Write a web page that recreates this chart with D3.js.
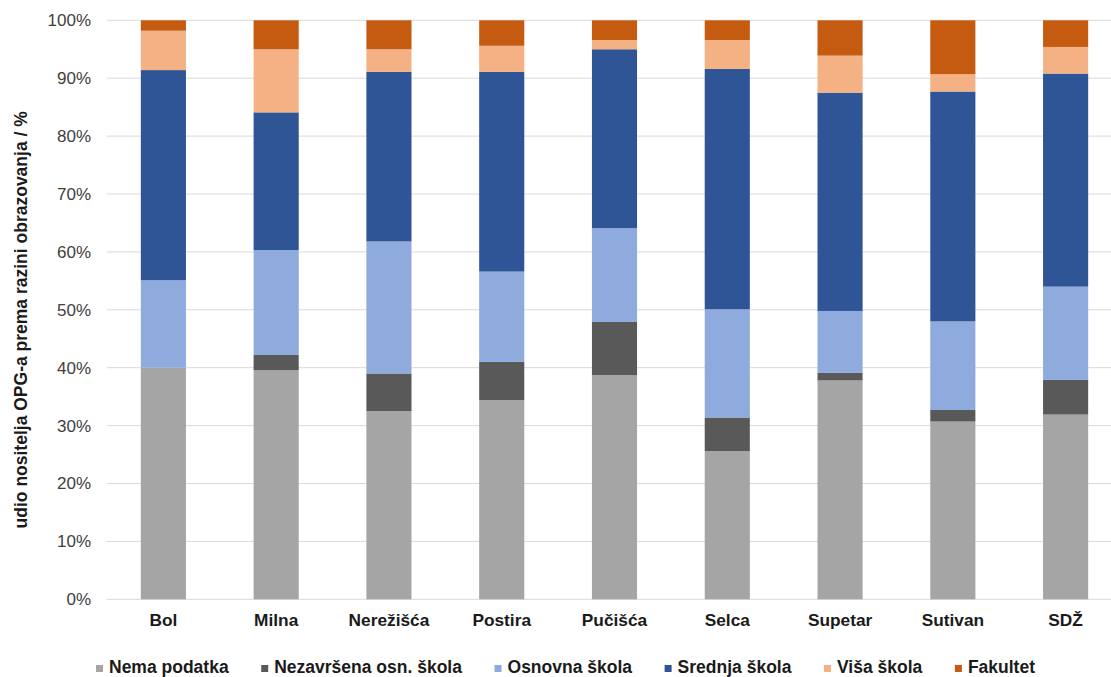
<!DOCTYPE html>
<html>
<head>
<meta charset="utf-8">
<script src="https://cdn.jsdelivr.net/npm/d3@7"></script>
<style>
  html, body { margin: 0; padding: 0; background: #fff; }
  svg { display: block; font-family: "Liberation Sans", Arial, sans-serif; }
</style>
</head>
<body>
<svg id="chart" width="1111" height="677"></svg>
<script>
const categories = ["Bol", "Milna", "Nerežišća", "Postira", "Pučišća", "Selca", "Supetar", "Sutivan", "SDŽ"];
const seriesNames = ["Nema podatka", "Nezavršena osn. škola", "Osnovna škola", "Srednja škola", "Viša škola", "Fakultet"];
const nemaPodatka   = [40.0, 39.6, 32.5, 34.4, 38.7, 25.6, 37.8, 30.7, 31.9];
const nezavrsena    = [ 0.0,  2.6,  6.5,  6.6,  9.2,  5.8,  1.3,  2.0,  6.0];
const osnovna       = [15.1, 18.1, 22.8, 15.6, 16.2, 18.7, 10.7, 15.3, 16.1];
const srednja       = [36.3, 23.8, 29.3, 34.5, 30.9, 41.5, 37.7, 39.7, 36.8];
const visa          = [ 6.8, 10.9,  3.9,  4.5,  1.6,  5.0,  6.4,  3.0,  4.6];
const fakultet      = [ 1.8,  5.0,  5.0,  4.4,  3.4,  3.4,  6.1,  9.3,  4.6];
const yTicks = [0, 0.1, 0.2, 0.3, 0.4, 0.5, 0.6, 0.7, 0.8, 0.9, 1.0];
const yTitle = "udio nositelja OPG-a prema razini obrazovanja / %";
const colors = ["#a5a5a5", "#595959", "#8faadc", "#2f5597", "#f4b183", "#c55a11"];

const seriesValues = [nemaPodatka, nezavrsena, osnovna, srednja, visa, fakultet];

const table = categories.map((c, i) => {
  const row = { category: c };
  const sum = seriesValues.reduce((s, arr) => s + arr[i], 0);
  seriesNames.forEach((n, k) => { row[n] = seriesValues[k][i] / sum; });
  return row;
});

const svg = d3.select("#chart");
const pLeft = 107, pRight = 1122, pTop = 20.3, pBottom = 599.3;

const x = d3.scaleBand().domain(categories).range([pLeft, pRight]).paddingInner(0.6).paddingOuter(0.3);
const y = d3.scaleLinear().domain([0, 1]).range([pBottom, pTop]);

svg.append("g").selectAll("line").data(yTicks).join("line")
  .attr("x1", pLeft).attr("x2", pRight)
  .attr("y1", d => y(d)).attr("y2", d => y(d))
  .attr("stroke", "#d9d9d9").attr("stroke-width", 1);

const yAxis = d3.axisLeft(y).tickValues(yTicks).tickFormat(d3.format(".0%")).tickSize(0).tickPadding(16);
const ya = svg.append("g").attr("transform", `translate(${pLeft},0)`).call(yAxis);
ya.select(".domain").remove();
ya.selectAll("text").attr("font-size", 17).attr("fill", "#404040")
  .attr("font-family", "'Liberation Sans', Arial, sans-serif");

const stacked = d3.stack().keys(seriesNames)(table);
svg.append("g").selectAll("g").data(stacked).join("g")
  .attr("fill", (d, i) => colors[i])
  .selectAll("rect").data(d => d).join("rect")
  .attr("x", d => x(d.data.category))
  .attr("width", x.bandwidth())
  .attr("y", d => y(d[1]))
  .attr("height", d => Math.max(0, y(d[0]) - y(d[1])));

const xAxis = d3.axisBottom(x).tickSize(0).tickPadding(14);
const xa = svg.append("g").attr("transform", `translate(0,${pBottom})`).call(xAxis);
xa.select(".domain").remove();
xa.selectAll("text").attr("font-size", 17.3).attr("font-weight", "bold").attr("fill", "#1a1a1a")
  .attr("font-family", "'Liberation Sans', Arial, sans-serif");

svg.append("text")
  .attr("transform", `translate(27,${(pTop + pBottom) / 2 + 10}) rotate(-90)`)
  .attr("text-anchor", "middle")
  .attr("font-size", 17.5).attr("font-weight", "bold").attr("fill", "#1a1a1a")
  .text(yTitle);

const lg = svg.append("g");
const items = lg.selectAll("g").data(seriesNames).join("g");
items.append("rect").attr("width", 7).attr("height", 7).attr("y", -8)
  .attr("fill", (d, i) => colors[i]);
items.append("text").attr("x", 13).attr("y", 0)
  .attr("font-size", 17.5).attr("font-weight", "bold").attr("fill", "#1a1a1a")
  .text(d => d);
const widths = [];
items.each(function () {
  const w = d3.select(this).select("text").node().getComputedTextLength();
  widths.push(13 + w);
});
const legStart = 96, legEnd = 1035;
const gap = (legEnd - legStart - d3.sum(widths)) / (widths.length - 1);
items.attr("transform", (d, i) => {
  const xx = legStart + d3.sum(widths.slice(0, i)) + gap * i;
  return `translate(${xx},673)`;
});
</script>
</body>
</html>
